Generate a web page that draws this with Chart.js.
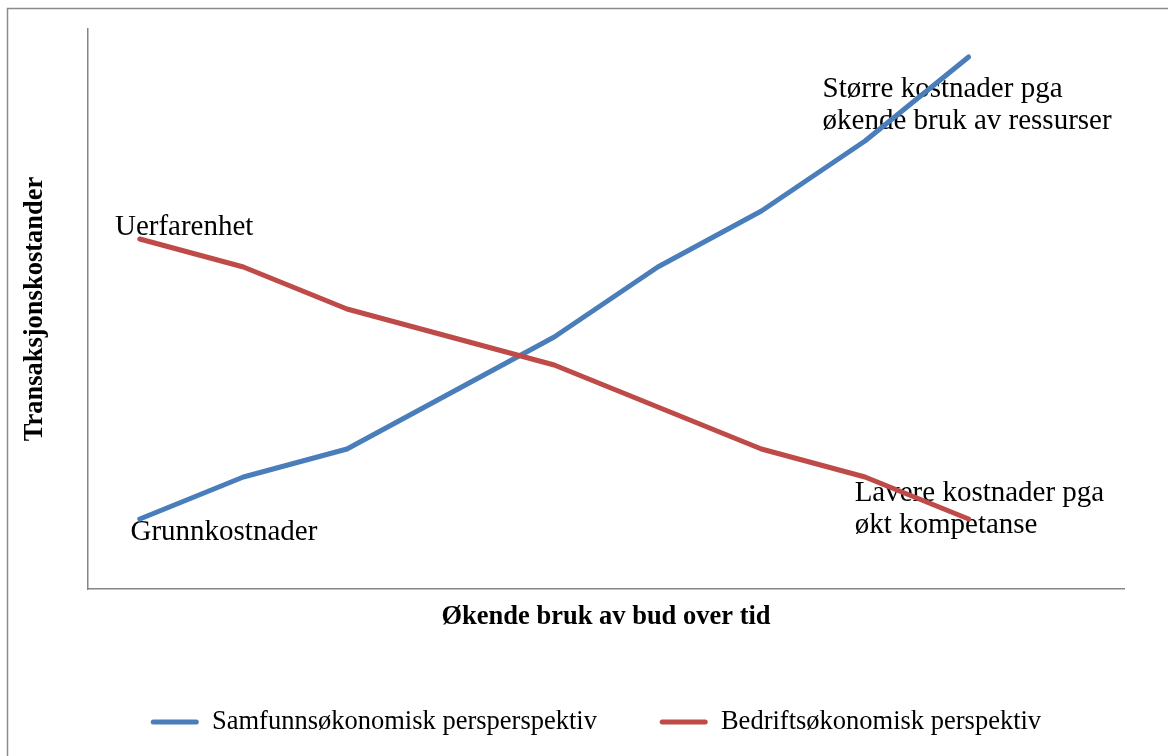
<!DOCTYPE html>
<html>
<head>
<meta charset="utf-8">
<script src="https://cdn.jsdelivr.net/npm/chart.js@4/dist/chart.umd.min.js"></script>
<style>
  html, body { margin: 0; padding: 0; background: #fff; overflow: hidden; }
  #wrap { width: 1168px; height: 756px; position: relative; }
</style>
</head>
<body>
<div id="wrap"><canvas id="myChart"></canvas></div>
<script>
// kategorier (siste er tom, som i Excel-arket)
const categories = ['1', '2', '3', '4', '5', '6', '7', '8', '9', '10'];
const samfunn = [5, 8, 10, 14, 18, 23, 27, 32, 38, null];
const bedrift = [25, 23, 20, 18, 16, 13, 10, 8, 5, null];
const seriesNames = ['Samfunnsøkonomisk persperspektiv', 'Bedriftsøkonomisk perspektiv'];

// tekstbokser i grafen, plassert i dataenheter (kategori-indeks, verdi)
const noteTexts = [
    ['Uerfarenhet'],
    ['Grunnkostnader'],
    ['Større kostnader pga', 'økende bruk av ressurser'],
    ['Lavere kostnader pga', 'økt kompetanse']
];
const noteAnchors = [[-0.24, 25.3], [-0.09, 3.5], [6.59, 35.15], [6.9, 6.3]];

const serif = "'Liberation Serif', 'Times New Roman', serif";
Chart.defaults.font.family = serif;
Chart.defaults.color = '#000';

// ramme rundt hele diagrammet
const frame = {
    id: 'frame',
    beforeDraw: function(chart) {
        const ctx = chart.ctx;
        ctx.save();
        ctx.strokeStyle = '#8a8a8a';
        ctx.lineWidth = 1.5;
        ctx.strokeRect(7.5, 8.5, 1300, 900);
        ctx.restore();
    }
};

// tekst i plottet
const notes = {
    id: 'notes',
    beforeDatasetsDraw: function(chart) {
        const ctx = chart.ctx;
        const xs = chart.scales.x, ys = chart.scales.y;
        ctx.save();
        ctx.font = '29px ' + serif;
        ctx.fillStyle = '#000';
        ctx.textBaseline = 'alphabetic';
        noteTexts.forEach(function(lines, i) {
            const px = xs.getPixelForValue(noteAnchors[i][0]);
            const py = ys.getPixelForValue(noteAnchors[i][1]);
            lines.forEach(function(t, j) { ctx.fillText(t, px, py + j * 32.5); });
        });
        ctx.restore();
    }
};

const ctx = document.getElementById('myChart');
new Chart(ctx, {
    type: 'line',
    data: {
        labels: categories,
        datasets: [{
            label: seriesNames[0],
            data: samfunn,
            borderColor: '#4A7EBB',
            backgroundColor: '#4A7EBB',
            order: 1
        }, {
            label: seriesNames[1],
            data: bedrift,
            borderColor: '#BE4B48',
            backgroundColor: '#BE4B48',
            order: 0
        }]
    },
    options: {
        responsive: true,
        maintainAspectRatio: false,
        animation: false,
        layout: {
            padding: { left: 8, top: 29, right: 44, bottom: 10.75 }
        },
        elements: {
            line: { borderWidth: 5, tension: 0, borderCapStyle: 'round', borderJoinStyle: 'round', fill: false },
            point: { radius: 0, hoverRadius: 0 }
        },
        plugins: {
            tooltip: { enabled: false },
            legend: {
                position: 'bottom',
                align: 'start',
                fullSize: false,
                labels: {
                    boxWidth: 48,
                    boxHeight: 5,
                    padding: 62.75,
                    color: '#000',
                    font: { size: 26.5, family: serif },
                    sort: function(a, b) { return a.datasetIndex - b.datasetIndex; },
                    generateLabels: function(chart) {
                        return Chart.defaults.plugins.legend.labels.generateLabels(chart).map(function(item) {
                            item.lineWidth = 0;
                            item.fillStyle = item.strokeStyle;
                            item.borderRadius = 2.5;
                            return item;
                        });
                    }
                }
            }
        },
        scales: {
            x: {
                offset: true,
                grid: { display: false, drawTicks: false },
                border: { display: true, color: '#868686', width: 1.5 },
                ticks: { display: false },
                title: {
                    display: true,
                    text: 'Økende bruk av bud over tid',
                    color: '#000',
                    font: { size: 26.5, weight: 'bold', family: serif },
                    padding: { top: 12.6, bottom: 12.6 }
                }
            },
            y: {
                min: 0,
                max: 40,
                grid: { display: false, drawTicks: false },
                border: { display: true, color: '#868686', width: 1.5 },
                ticks: { display: false },
                title: {
                    display: true,
                    text: 'Transaksjonskostander',
                    color: '#000',
                    font: { size: 26.5, weight: 'bold', family: serif },
                    padding: { top: 11.1, bottom: 37.1 }
                }
            }
        }
    },
    plugins: [frame, notes]
});
</script>
</body>
</html>
